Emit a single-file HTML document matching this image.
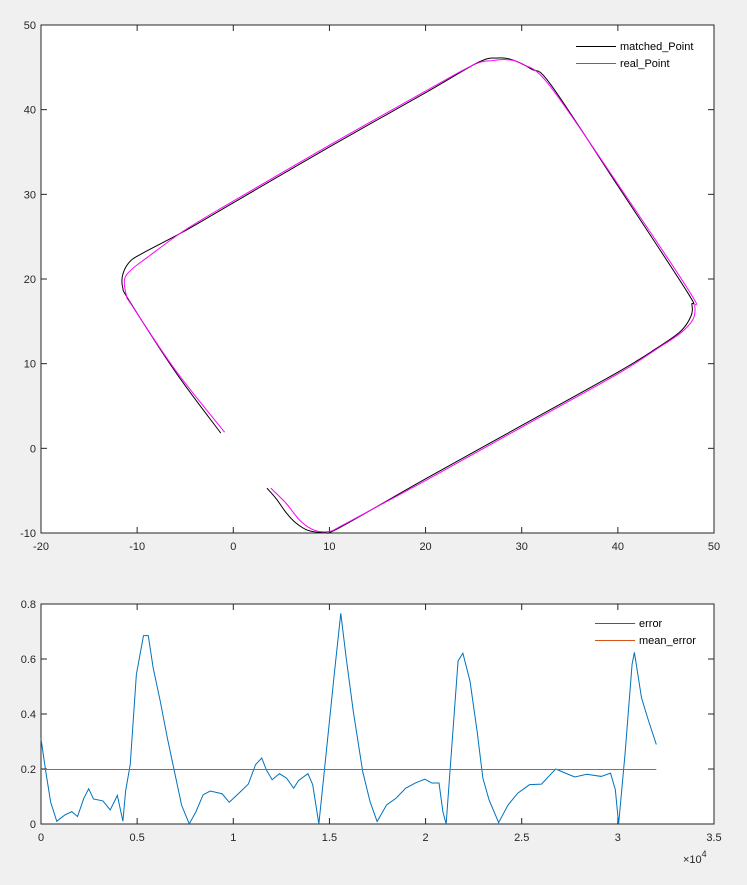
<!DOCTYPE html>
<html><head><meta charset="utf-8"><style>
body{margin:0;background:#f0f0f0;width:747px;height:885px;overflow:hidden}
svg{display:block;font-family:"Liberation Sans",sans-serif;font-size:11px}
</style></head><body>
<svg id="s" width="747" height="885" xmlns="http://www.w3.org/2000/svg"></svg>
<script>
const matchedX=[3.5,4.5,5.5,6.5,7.8,9.5,11,20,30,40,44,46.5,47.6,47.7,47.2,40,33,31,29,27.5,25.5,20,10,0,-5,-9.5,-10.8,-11.5,-11.5,-10.8,-6,-1.3];
const matchedY=[-4.7,-6,-7.6,-8.8,-9.7,-9.9,-9.4,-3.6,2.7,9,11.8,13.8,15.6,17,18.5,31,43,44.8,45.9,46.1,45.6,42,35.6,29,25.7,23,22,20.5,19,17.4,9,1.8];
const realX=[3.9,5.5,7,8.5,10,11.5,20,30,40,44,46.5,47.8,48,47.4,40,32.8,30,28.5,27,25,20,10,0,-5,-9,-10.5,-11.3,-11.1,-10.5,-6,-0.9];
const realY=[-4.7,-6.5,-8.6,-9.7,-9.8,-9.0,-3.8,2.5,8.8,11.7,13.6,15.2,16.8,18.6,31.2,43,45.4,45.9,45.8,45.3,42.2,35.8,29.2,25.8,22.5,21.2,20,18,16.8,9.2,1.9];
const errX=[0,0.025,0.05,0.082,0.124,0.16,0.19,0.223,0.248,0.273,0.322,0.36,0.397,0.426,0.44,0.464,0.496,0.533,0.558,0.583,0.62,0.657,0.694,0.731,0.771,0.806,0.843,0.88,0.942,0.979,1.029,1.078,1.116,1.148,1.172,1.202,1.24,1.277,1.314,1.339,1.388,1.413,1.445,1.475,1.525,1.559,1.587,1.624,1.673,1.711,1.748,1.797,1.847,1.896,1.946,1.996,2.033,2.07,2.09,2.107,2.132,2.169,2.194,2.231,2.268,2.298,2.33,2.38,2.429,2.479,2.541,2.603,2.64,2.677,2.727,2.776,2.838,2.913,2.962,2.987,3.004,3.037,3.074,3.086,3.123,3.16,3.2];
const errY=[0.31,0.19,0.08,0.01,0.033,0.045,0.027,0.094,0.128,0.091,0.084,0.051,0.104,0.01,0.12,0.216,0.544,0.685,0.685,0.569,0.447,0.313,0.191,0.069,0,0.045,0.106,0.12,0.11,0.079,0.112,0.145,0.216,0.24,0.197,0.161,0.183,0.167,0.13,0.158,0.183,0.143,0,0.203,0.544,0.766,0.605,0.41,0.191,0.082,0.009,0.069,0.094,0.13,0.149,0.163,0.149,0.149,0.045,0,0.24,0.593,0.621,0.52,0.337,0.167,0.088,0.005,0.069,0.112,0.143,0.145,0.173,0.2,0.185,0.171,0.181,0.173,0.185,0.124,0,0.252,0.581,0.624,0.459,0.374,0.289];
const meanErr=0.2, meanStart=0, meanEnd=3.2;
const topXTicks=[-20,-10,0,10,20,30,40,50], topYTicks=[-10,0,10,20,30,40,50];
const botXTicks=[0,0.5,1,1.5,2,2.5,3,3.5], botYTicks=[0,0.2,0.4,0.6,0.8];
const botXLabels=["0","0.5","1","1.5","2","2.5","3","3.5"], botYLabels=["0","0.2","0.4","0.6","0.8"];

const S=document.getElementById('s'),NS="http://www.w3.org/2000/svg";
function mk(t,a,p){const e=document.createElementNS(NS,t);for(const k in a)e.setAttribute(k,a[k]);(p||S).appendChild(e);return e;}
function axes(L,R,T,B,x0,x1,y0,y1,xt,yt,xl,yl,name){
  const sx=v=>L+(v-x0)/(x1-x0)*(R-L), sy=v=>B-(v-y0)/(y1-y0)*(B-T);
  const g=mk('g',{});
  
  
  mk('rect',{x:L,y:T,width:R-L,height:B-T,fill:'#fff',stroke:'#262626','stroke-width':1},g);
  xt.forEach((v,i)=>{const x=sx(v);
    mk('line',{x1:x,x2:x,y1:B,y2:B-6,stroke:'#262626'},g);mk('line',{x1:x,x2:x,y1:T,y2:T+6,stroke:'#262626'},g);
    const t=mk('text',{x:x,y:B+17,'text-anchor':'middle',fill:'#262626'},g);t.textContent=xl?xl[i]:v;
    
    });
  yt.forEach((v,i)=>{const y=sy(v);
    mk('line',{x1:L,x2:L+6,y1:y,y2:y,stroke:'#262626'},g);mk('line',{x1:R,x2:R-6,y1:y,y2:y,stroke:'#262626'},g);
    const t=mk('text',{x:L-5,y:y+4,'text-anchor':'end',fill:'#262626'},g);t.textContent=yl?yl[i]:v;
    
    });
  return {sx,sy,g};
}
function smoothPath(P){
  let d='M'+P[0][0]+','+P[0][1];
  for(let i=0;i<P.length-1;i++){
    const p0=P[Math.max(0,i-1)],p1=P[i],p2=P[i+1],p3=P[Math.min(P.length-1,i+2)];
    const c1=[p1[0]+(p2[0]-p0[0])/6,p1[1]+(p2[1]-p0[1])/6],c2=[p2[0]-(p3[0]-p1[0])/6,p2[1]-(p3[1]-p1[1])/6];
    d+=' C'+c1.join(',')+' '+c2.join(',')+' '+p2.join(',');
  }
  return d;
}
function curve(ax,X,Y,col,name){
  const p=mk('path',{d:smoothPath(X.map((x,i)=>[ax.sx(x),ax.sy(Y[i])])),fill:'none',stroke:col,'stroke-width':1});
  
  
}
function line(ax,X,Y,col,name,crisp){
  const p=mk('polyline',{points:X.map((x,i)=>ax.sx(x)+','+(ax.sy(Y[i])+(crisp?0.5:0))).join(' '),fill:'none',stroke:col,'stroke-width':1});
  
  
}
function legend(x,y,label,col){
  mk('line',{x1:x,x2:x+40,y1:y+0.5,y2:y+0.5,stroke:col});
  const t=mk('text',{x:x+44,y:y+4,fill:'#000'});t.textContent=label;
  
  
}
const A=axes(41,714,25,533,-20,50,-10,50,topXTicks,topYTicks,null,null,'trajectory-axes');
curve(A,matchedX,matchedY,'#000','matched-point-line');
curve(A,realX,realY,'#ff00ff','real-point-line');
legend(576,46,'matched_Point','#000');legend(576,63,'real_Point','#ff00ff');
const B=axes(41,714,604,824,0,3.5,0,0.8,botXTicks,botYTicks,botXLabels,botYLabels,'error-axes');
line(B,errX,errY,'#0072bd','error-line');
line(B,[meanStart,meanEnd],[meanErr,meanErr],'#d95319','mean-error-line',true);
legend(595,623,'error','#0072bd');legend(595,640,'mean_error','#d95319');
const e=mk('text',{x:683,y:863,fill:'#262626'});e.innerHTML='×10<tspan dy="-6" font-size="9">4</tspan>';


</script>
</body></html>
